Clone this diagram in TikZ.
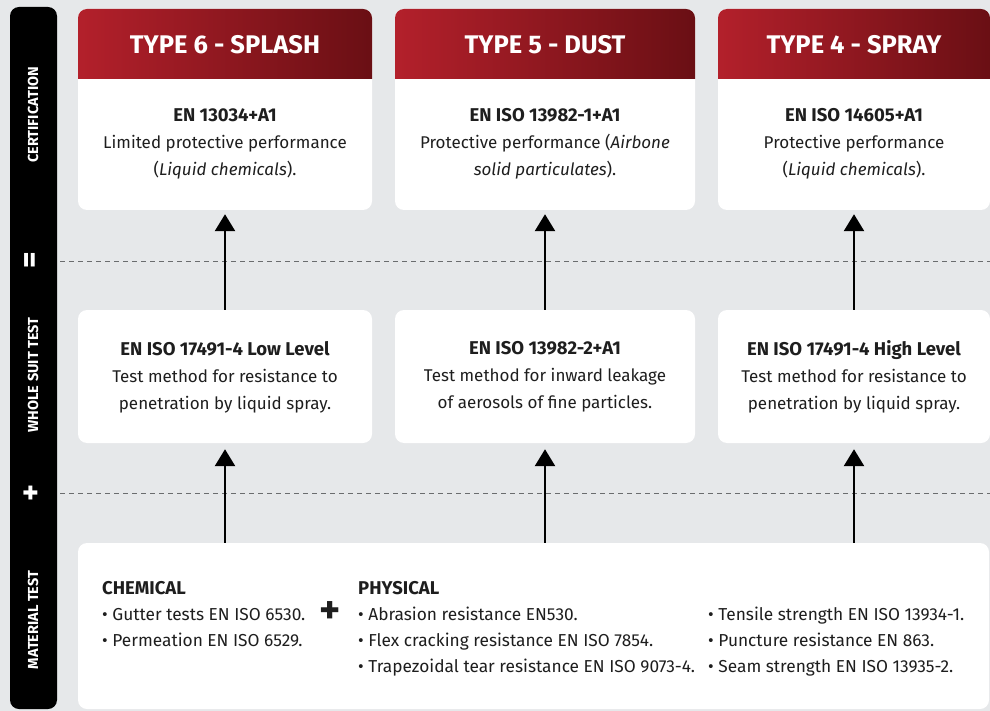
\documentclass[tikz,border=0pt]{standalone}
\usepackage{fontspec}
\setmainfont{Fira Sans}
\usetikzlibrary{arrows.meta}
\definecolor{bg}{HTML}{E6E8EA}
\definecolor{redA}{HTML}{B3202B}
\definecolor{redB}{HTML}{6A0F14}
\definecolor{txt}{HTML}{1E1E1E}
\definecolor{dash}{HTML}{6A6C6E}
\newcommand{\hb}[1]{{\fontsize{18.5}{27}\selectfont\bfseries #1}}
\begin{document}
\begin{tikzpicture}[x=1pt,y=-1pt,
 box/.style={fill=white, rounded corners=9pt, inner sep=0pt},
 hdr/.style={text=white, font=\fontsize{25.5}{25}\selectfont\bfseries},
 body/.style={text=txt, align=center, font=\fontsize{17}{27}\selectfont},
 side/.style={text=white, rotate=90, font=\fontsize{14.5}{14}\selectfont\bfseries},
 sign/.style={text=white, rotate=90, font=\fontsize{32}{32}\selectfont\bfseries},
 arr/.style={line width=2.6pt, -{Triangle[width=20pt,length=17pt]}},
 sep/.style={draw=dash, line width=0.9pt, dash pattern=on 5pt off 4pt},
 item/.style={text=txt, anchor=base west, inner sep=0pt, font=\fontsize{17.3}{17}\selectfont},
 ititle/.style={text=txt, anchor=base west, inner sep=0pt, font=\fontsize{18.5}{17}\selectfont\bfseries}
]
\fill[bg] (0,0) rectangle (990,711);
\useasboundingbox (0,0) rectangle (990,711);

% side bar
\fill[black, rounded corners=9pt] (10,7) rectangle (57,709);
\node[side] (s1) at (33,115) {CERTIFICATION};
\node[sign] (s2) at (33,260) {=};
\node[side] (s3) at (33,375) {WHOLE SUIT TEST};
\node[sign] (s4) at (33,493) {+};
\node[side] (s5) at (33,620) {MATERIAL TEST};

% separators
\draw[sep] (60,261) -- (990,261);
\draw[sep] (60,493) -- (990,493);

% certification boxes
\node[box, minimum width=294pt, minimum height=201pt] (c1) at (225,109.5) {};
\node[box, minimum width=300pt, minimum height=201pt] (c2) at (545,109.5) {};
\node[box, minimum width=272pt, minimum height=201pt] (c3) at (854,109.5) {};
\foreach \a/\b in {78/372, 395/695, 718/990}{
  \shade[left color=redA, right color=redB] (\a,79) [rounded corners=9pt] -- (\a,9) -- (\b,9) [sharp corners] -- (\b,79) -- cycle;
}
\node[hdr] (h1) at (225,45) {TYPE 6 - SPLASH};
\node[hdr] (h2) at (545,45) {TYPE 5 - DUST};
\node[hdr] (h3) at (854,45) {TYPE 4 - SPRAY};
\node[body] (t1) at (225,144) {\hb{EN 13034+A1}\\Limited protective performance\\(\textit{Liquid chemicals}).};
\node[body] (t2) at (545,144) {\hb{EN ISO 13982-1+A1}\\Protective performance (\textit{Airbone}\\\textit{solid particulates}).};
\node[body] (t3) at (854,144) {\hb{EN ISO 14605+A1}\\Protective performance\\(\textit{Liquid chemicals}).};

% whole suit test boxes
\node[box, minimum width=294pt, minimum height=133pt] (m1) at (225,376.5) {};
\node[box, minimum width=300pt, minimum height=133pt] (m2) at (545,376.5) {};
\node[box, minimum width=272pt, minimum height=133pt] (m3) at (854,376.5) {};
\node[body] (u1) at (225,377) {\hb{EN ISO 17491-4 Low Level}\\Test method for resistance to\\penetration by liquid spray.};
\node[body] (u2) at (545,377) {\hb{EN ISO 13982-2+A1}\\Test method for inward leakage\\of aerosols of fine particles.};
\node[body] (u3) at (854,377) {\hb{EN ISO 17491-4 High Level}\\Test method for resistance to\\penetration by liquid spray.};

% material test box
\node[box, minimum width=911pt, minimum height=166pt] (b) at (533.5,626) {};
\node[ititle] (chem) at (102,594) {CHEMICAL};
\node[item] (ch1) at (102,620) {• Gutter tests EN ISO 6530.};
\node[item] (ch2) at (102,646) {• Permeation EN ISO 6529.};
\node[text=txt, font=\fontsize{40}{40}\selectfont\bfseries] (plus) at (330,613) {+};
\node[ititle] (phys) at (358,594) {PHYSICAL};
\node[item] (p1) at (358,620) {• Abrasion resistance EN530.};
\node[item] (p2) at (358,646) {• Flex cracking resistance EN ISO 7854.};
\node[item] (p3) at (358,672) {• Trapezoidal tear resistance EN ISO 9073-4.};
\node[item] (q1) at (708,620) {• Tensile strength EN ISO 13934-1.};
\node[item] (q2) at (708,646) {• Puncture resistance EN 863.};
\node[item] (q3) at (708,672) {• Seam strength EN ISO 13935-2.};

% arrows
\foreach \i in {1,2,3}{
  \draw[arr, shorten >=4pt] (m\i.north) -- (c\i.south);
  \draw[arr, shorten >=6pt] (m\i.south |- b.north) -- (m\i.south);
}
\end{tikzpicture}
\end{document}
